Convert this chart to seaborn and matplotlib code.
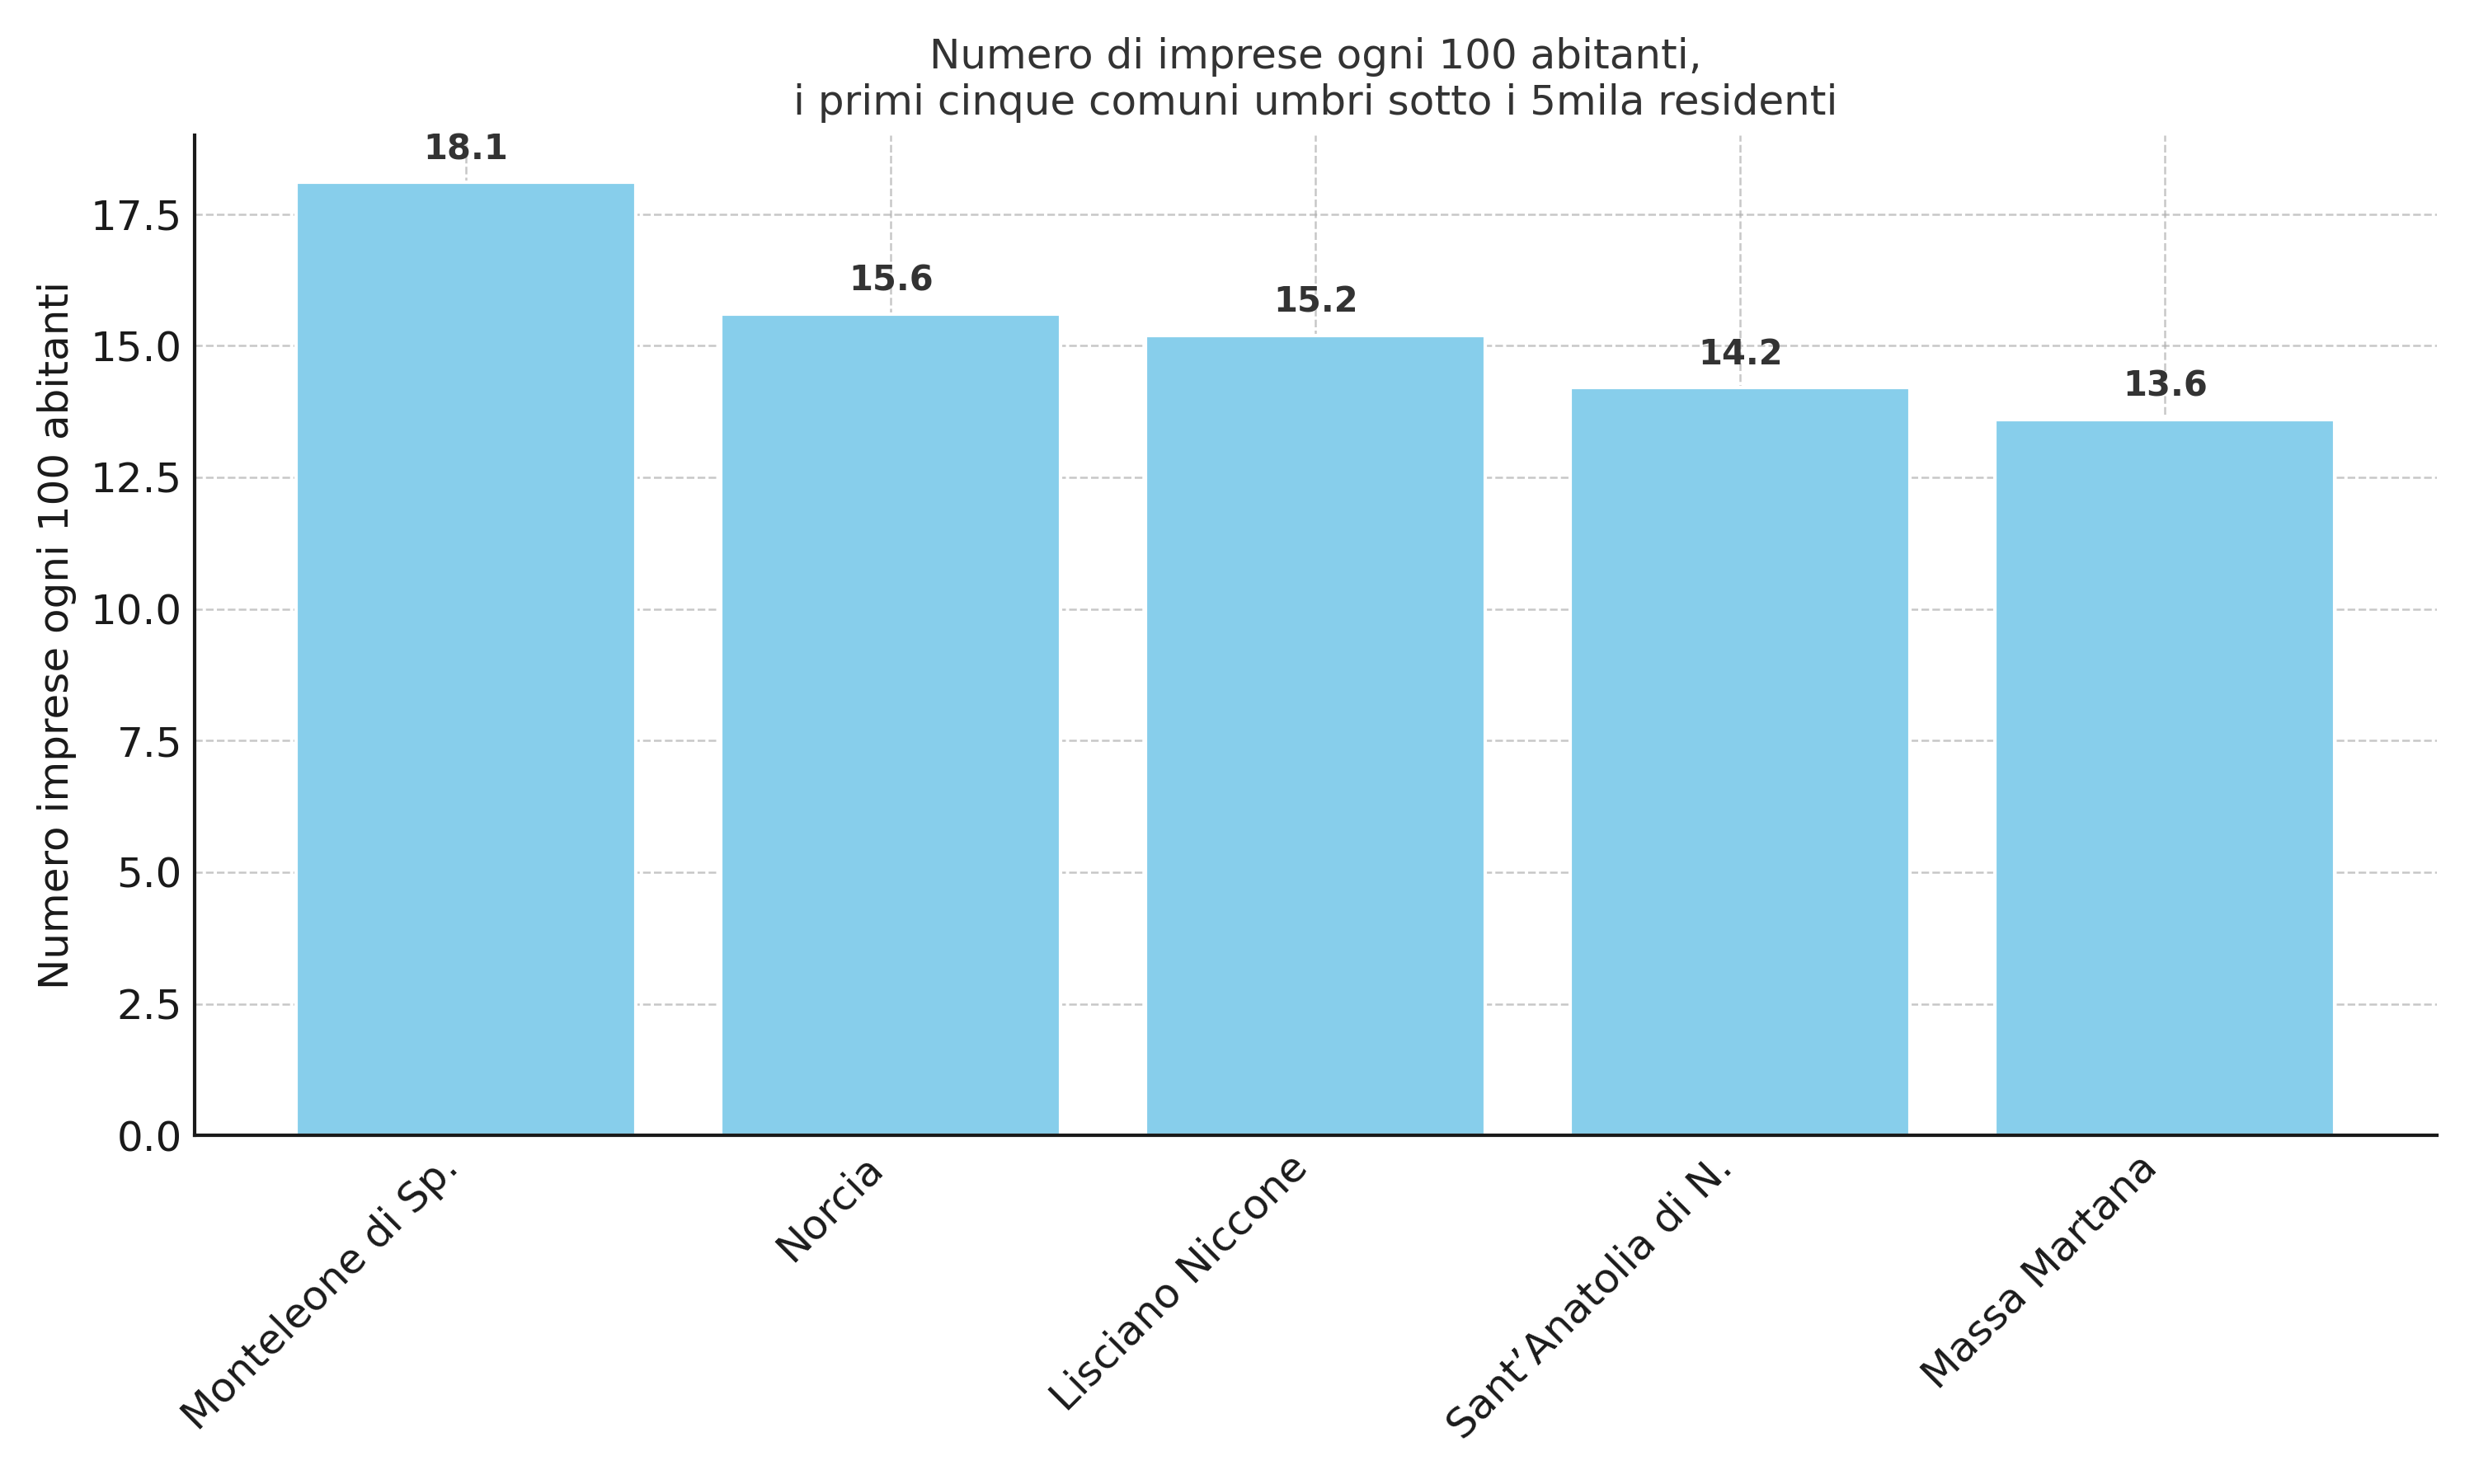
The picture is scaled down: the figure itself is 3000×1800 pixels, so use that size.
import matplotlib
matplotlib.use("Agg")
import matplotlib.pyplot as plt
import seaborn as sns
import pandas as pd

# Data
comuni = ["Monteleone di Sp.", "Norcia", "Lisciano Niccone", "Sant\u2019Anatolia di N.", "Massa Martana"]
imprese_100_ab = [18.1, 15.6, 15.2, 14.2, 13.6]

df = pd.DataFrame({"comune": comuni, "valore": imprese_100_ab})

sns.set_style("white")
plt.rcParams["font.family"] = ["DejaVu Sans"]
plt.rcParams["text.color"] = "#333333"

fig, ax = plt.subplots(figsize=(10, 6), dpi=300)
sns.barplot(data=df, x="comune", y="valore", color="skyblue", saturation=1,
            width=0.8, ax=ax)

# Value labels above the bars
for i, v in enumerate(imprese_100_ab):
    ax.text(i, v + 0.3, f"{v}", ha="center", va="bottom",
            fontsize=10, fontweight="bold", color="#333333")

ax.set_title("Numero di imprese ogni 100 abitanti,\ni primi cinque comuni umbri sotto i 5mila residenti",
             fontsize=12, color="#333333")
ax.set_xlabel("")
ax.set_ylabel("Numero imprese ogni 100 abitanti", fontsize=12, color="#1a1a1a")
ax.set_ylim(0, 19.005)
ax.set_xlim(-0.64, 4.64)
ax.set_yticks([0, 2.5, 5, 7.5, 10, 12.5, 15, 17.5])
ax.set_yticklabels(["0.0", "2.5", "5.0", "7.5", "10.0", "12.5", "15.0", "17.5"])
plt.xticks(rotation=45, ha="right", fontsize=12)
plt.yticks(fontsize=12)
ax.tick_params(axis="both", direction="in", length=3.5, width=0.8, colors="#1a1a1a")

ax.grid(True, linestyle="--", color="#b0b0b0", linewidth=0.6, alpha=0.7)
ax.set_axisbelow(True)
sns.despine(ax=ax)
for s in ["left", "bottom"]:
    ax.spines[s].set_color("#1a1a1a")
    ax.spines[s].set_linewidth(1.0)

plt.tight_layout()
plt.savefig("out.png", dpi=300)
